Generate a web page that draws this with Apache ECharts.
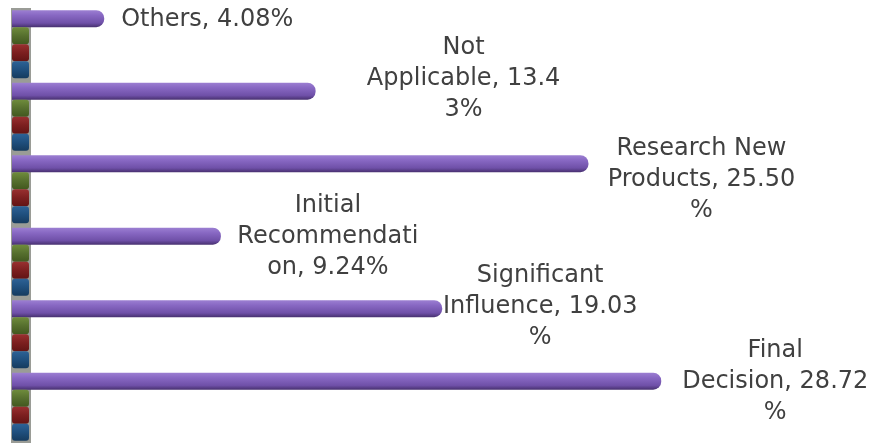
<!DOCTYPE html>
<html>
<head>
<meta charset="utf-8">
<script src="https://cdn.jsdelivr.net/npm/echarts@6/dist/echarts.min.js"></script>
<style>
html,body{margin:0;padding:0;background:#fff;}
#chart{width:880px;height:445px;}
</style>
</head>
<body>
<div id="chart"></div>
<script>
// Categories listed bottom to top
const categories = ['Final Decision', 'Significant Influence', 'Initial Recommendation', 'Research New Products', 'Not Applicable', 'Others'];
const mainValues = [28.72, 19.03, 9.24, 25.50, 13.43, 4.08];
const series2Values = [0, 0, 0, 0, 0, 0];
const series3Values = [0, 0, 0, 0, 0, 0];
const series4Values = [0, 0, 0, 0, 0, 0];

// label layout (styling only): line-break positions and offsets
const labelCuts = [[5, 21], [11, 28], [7, 20], [12, 28], [3, 20], []];
const labelOffsets = [[114, 1], [98, -2], [107, 1], [113, 16], [148, -12], [103, 1]];

function wrap(s, cuts) {
  const parts = []; let p = 0;
  cuts.forEach(c => { parts.push(s.slice(p, c).trim()); p = c; });
  parts.push(s.slice(p).trim());
  return parts.join('\n');
}

const purple = {
  type: 'linear', x: 0, y: 0, x2: 0, y2: 1,
  colorStops: [
    {offset: 0, color: '#9c7fd2'},
    {offset: 0.3, color: '#8868c3'},
    {offset: 0.75, color: '#6f50a8'},
    {offset: 1, color: '#47306f'}
  ]
};
function stubColor(a, b, c) {
  return {type: 'linear', x: 0, y: 0, x2: 0, y2: 1,
    colorStops: [{offset: 0, color: a}, {offset: 0.5, color: b}, {offset: 1, color: c}]};
}

const chart = echarts.init(document.getElementById('chart'));
const stubBase = {
  type: 'bar', barMinHeight: 17, silent: true,
  barGap: '0%', barCategoryGap: '6%'
};
chart.setOption({
  animation: false,
  grid: {left: 12, top: 8, width: 859, height: 435, containLabel: false},
  xAxis: {type: 'value', min: 0, max: 38, show: false},
  yAxis: {
    type: 'category', data: categories, offset: -9,
    axisLine: {show: true, lineStyle: {color: '#9a9c96', width: 20, cap: 'butt'}},
    axisTick: {show: false}, axisLabel: {show: false}, splitLine: {show: false}
  },
  series: [
    {
      name: 'Series1', type: 'bar', data: mainValues,
      barGap: '0%', barCategoryGap: '6%',
      itemStyle: {color: purple, borderRadius: [0, 8, 8, 0]},
      label: {
        show: true, position: 'right', distance: 0, align: 'center', verticalAlign: 'middle',
        fontFamily: 'DejaVu Sans', fontSize: 24, lineHeight: 31, color: '#404040',
        formatter: p => wrap(p.name + ', ' + p.value.toFixed(2) + '%', labelCuts[p.dataIndex])
      },
      labelLayout: p => ({dx: labelOffsets[p.dataIndex][0], dy: labelOffsets[p.dataIndex][1]})
    },
    Object.assign({name: 'Series2', data: series2Values,
      itemStyle: {color: stubColor('#6f8c3c', '#566f2e', '#42581f'), borderRadius: 3}}, stubBase),
    Object.assign({name: 'Series3', data: series3Values,
      itemStyle: {color: stubColor('#993030', '#7c1f1f', '#621414'), borderRadius: 3}}, stubBase),
    Object.assign({name: 'Series4', data: series4Values,
      itemStyle: {color: stubColor('#2d6296', '#1f4f7d', '#163b5e'), borderRadius: 3}}, stubBase)
  ]
});
</script>
</body>
</html>
